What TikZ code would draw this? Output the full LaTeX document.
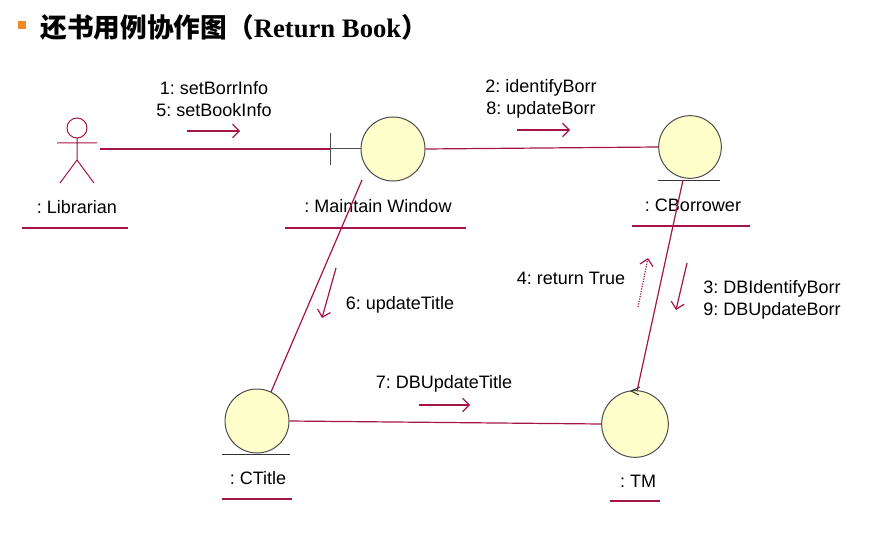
\documentclass[tikz,border=0pt]{standalone}
\usepackage{fontspec}
\usetikzlibrary{arrows.meta}
\setmainfont{Liberation Sans}
\newfontfamily\cjk{Noto Sans CJK SC}
\newfontfamily\titlefont{Liberation Serif}
\frenchspacing
\definecolor{linkred}{RGB}{165,20,70}
\definecolor{objfill}{RGB}{255,255,204}
\definecolor{bulletorange}{RGB}{240,140,40}
\tikzset{every picture/.style={line width=0.75pt}}
\tikzset{
  link/.style={draw=linkred, line width=0.9pt},
  msg/.style={draw=linkred, line width=0.9pt, -{Straight Barb[length=5pt]}},
  obj/.style={circle, draw=black!70, fill=objfill, minimum size=48pt, inner sep=0pt},
  lbl/.style={font=\fontsize{13.5}{16}\selectfont, inner sep=0.75pt},
  uline/.style={draw=linkred, line width=0.9pt}
}

\begin{document}
\begin{tikzpicture}[x=0.75pt,y=0.75pt,yscale=-1,xscale=1]
\useasboundingbox (0,0) rectangle (870,549);

% Title
\fill[bulletorange] (18,21) rectangle (26,29);
\node[anchor=west, inner sep=0pt, font=\fontsize{20}{22}\selectfont\bfseries] (title) at (40,27) {\cjk 还书用例协作图（\titlefont Return Book\cjk ）};

% Actor
\draw[linkred] (77,128) circle (10);
\draw[linkred] (77,138) -- (77,160) (57,143) -- (97,143) (60,183) -- (77,160) -- (94,183);
\coordinate (lib) at (100,149);
\node[lbl] (libl) at (77,207) {: Librarian};
\draw[uline] (22,228) -- (128,228);

% Boundary
\draw[link] (lib) -- (330,149);
\node[obj, minimum size=48pt] (win) at (393,149) {};
\draw[black!70] (330,133) -- (330,165) (330,149) -- (win.west);
\node[lbl] (winl) at (378,206) {: Maintain Window};
\draw[uline] (285,228) -- (466,228);

% Entity CBorrower
\node[obj, minimum size=47pt] (bor) at (690,147) {};
\draw[black!80] (658,180) -- (720,180);
\node[lbl] (borl) at (693,205) {: CBorrower};
\draw[uline] (632,226) -- (750,226);

% Entity CTitle
\node[obj, minimum size=48pt] (tit) at (257,421) {};
\draw[black!80] (222,454) -- (290,454);
\node[lbl] (titl) at (258,478) {: CTitle};
\draw[uline] (222,499) -- (292,499);

% Control TM
\node[obj, minimum size=50pt] (tm) at (635,424) {};
\draw[black!80] (640,387) -- (631,391) -- (639,395);
\node[lbl] (tml) at (638,481) {: TM};
\draw[uline] (610,501) -- (660,501);

% Links
\draw[link] (win.east) -- (bor.west);
\draw[link] (362,180) -- (271,392);
\draw[link] (tit.east) -- (tm.west);
\draw[link] (683,180) -- (637,391);

% Messages
\node[lbl, align=center] (m1) at (214,99) {1: setBorrInfo\\5: setBookInfo};
\draw[msg] (187,131) -- (240,131);
\node[lbl, align=center] (m2) at (541,99) {2: identifyBorr\\8: updateBorr};
\draw[msg] (517,130) -- (570,130);
\node[lbl] (m6) at (400,305) {6: updateTitle};
\draw[msg] (336,268) -- (322,318);
\node[lbl] (m7) at (444,384) {7: DBUpdateTitle};
\draw[msg] (419,405) -- (470,405);
\node[lbl] (m4) at (571,278) {4: return True};
\draw[msg, densely dotted] (638,307) -- (648,258);
\node[lbl, align=left] (m3) at (772,300) {3: DBIdentifyBorr\\9: DBUpdateBorr};
\draw[msg] (687,263) -- (676,310);
\end{tikzpicture}
\end{document}
